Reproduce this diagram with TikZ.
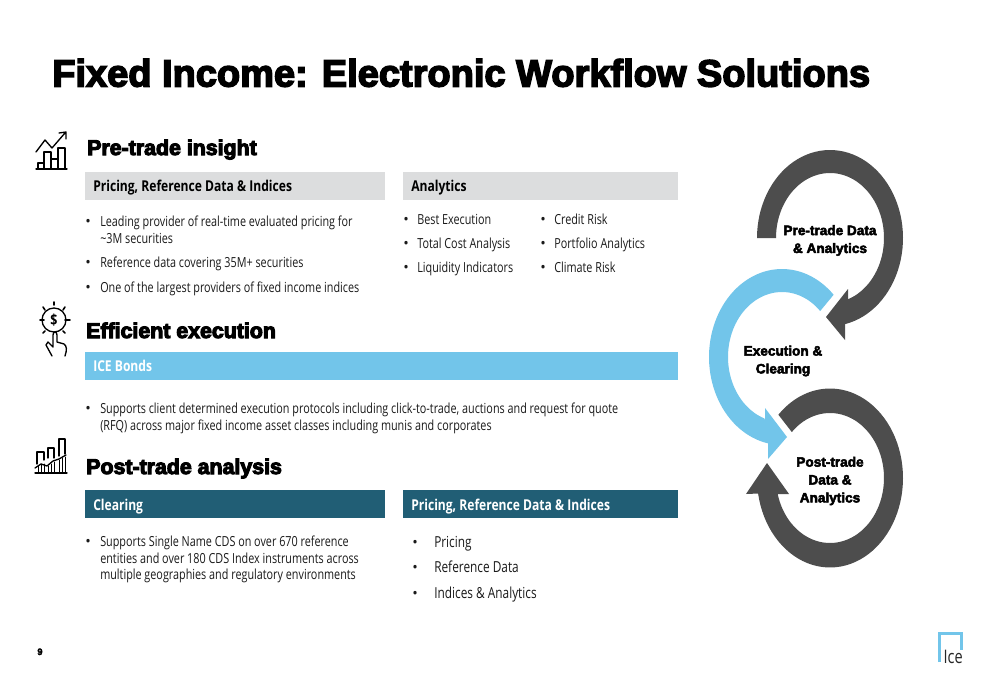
\documentclass[tikz,border=0pt]{standalone}
\usepackage{fontspec}
\setmainfont{Open Sans}
\newfontfamily\bodyfont[FakeStretch=0.78]{Open Sans}
\newfontfamily\semifont[FakeStretch=0.81,BoldFont={Open Sans Bold}]{Open Sans}
\newfontfamily\titlefont[FakeBold=4]{Liberation Sans Bold}
\newfontfamily\heavyfont[FakeBold=5]{Liberation Sans Bold}
\newfontfamily\ringfont[FakeBold=3.5]{Liberation Sans Bold}
\definecolor{headgray}{HTML}{DCDDDE}
\definecolor{skyblue}{HTML}{72C5EA}
\definecolor{tealbar}{HTML}{215E75}
\definecolor{ringdark}{HTML}{4D4D4D}
\definecolor{bodytext}{HTML}{1A1A1A}
\tikzset{
 x=0.75pt,y=-0.75pt,
 bar/.style={draw=none,inner sep=0pt,anchor=north west},
 headtext/.style={inner sep=0pt,anchor=base west,font=\semifont\bfseries\fontsize{11.2}{13}\selectfont},
 bodyline/.style={inner sep=0pt,anchor=base west,text=bodytext,align=left,font=\bodyfont\fontsize{10.4}{13}\selectfont},
 bigline/.style={bodyline,font=\bodyfont\fontsize{11.4}{13}\selectfont},
 bulletmark/.style={inner sep=0pt,anchor=base west,text=bodytext,font=\fontsize{11}{13}\selectfont},
 section/.style={inner sep=0pt,anchor=base west,font=\heavyfont\fontsize{16}{19}\selectfont},
 ringtext/.style={inner sep=0pt,align=center,font=\ringfont\fontsize{10.2}{13.4}\selectfont},
 icon/.style={draw=black,line width=1pt,fill=none,line cap=round,line join=round},
}
\begin{document}
\begin{tikzpicture}
\useasboundingbox (0,0) rectangle (1000,685);
\fill[white] (0,0) rectangle (1000,685);
% title
\node[inner sep=0pt,anchor=base west,font=\titlefont\fontsize{28.5}{34}\selectfont] (title) at (52,86.5) {Fixed Income: Electronic Workflow Solutions};
% header bars
\node[bar,fill=headgray,minimum width=225pt,minimum height=21pt] (barA) at (85,172) {};
\node[bar,fill=headgray,minimum width=206.25pt,minimum height=21pt] (barB) at (403,172) {};
\node[bar,fill=skyblue,minimum width=444.75pt,minimum height=21pt] (barC) at (85,352) {};
\node[bar,fill=tealbar,minimum width=225pt,minimum height=21pt] (barD) at (85,490) {};
\node[bar,fill=tealbar,minimum width=206.25pt,minimum height=21pt] (barE) at (403,490) {};
% section headings
\node[section] (secA) at (87,155) {Pre-trade insight};
\node[section] (secB) at (86,338) {Efficient execution};
\node[section] (secC) at (86,474) {Post-trade analysis};
% bar labels
\node[headtext] (tA) at (93,191) {Pricing, Reference Data \& Indices};
\node[headtext] (tB) at (411,191) {Analytics};
\node[headtext,text=white] (tC) at (93,371) {ICE Bonds};
\node[headtext,text=white] (tD) at (93,510) {Clearing};
\node[headtext,text=white] (tE) at (411,510) {Pricing, Reference Data \& Indices};
% bullets
\foreach \n/\bx/\by in {a/85/226,b/85/267,c/85/292,d/403/224,e/403/248,f/403/272,g/540/224,h/540/248,i/540/272,j/85/413,k/85/546,l/412/547,m/412/572,n/412/598}
  \node[bulletmark] (bul\n) at (\bx,\by) {•};
\node[bodyline] (la1) at (100,226) {Leading provider of real-time evaluated pricing for};
\node[bodyline] (la2) at (100,243) {\textasciitilde3M securities};
\node[bodyline] (lb) at (100,267) {Reference data covering 35M+ securities};
\node[bodyline] (lc) at (100,292) {One of the largest providers of fixed income indices};
\node[bodyline] (ld) at (417,224) {Best Execution};
\node[bodyline] (le) at (417,248) {Total Cost Analysis};
\node[bodyline] (lf) at (417,272) {Liquidity Indicators};
\node[bodyline] (lg) at (554,224) {Credit Risk};
\node[bodyline] (lh) at (554,248) {Portfolio Analytics};
\node[bodyline] (li) at (554,272) {Climate Risk};
\node[bodyline] (lj1) at (100,413) {Supports client determined execution protocols including click-to-trade, auctions and request for quote};
\node[bodyline] (lj2) at (100,430) {(RFQ) across major fixed income asset classes including munis and corporates};
\node[bodyline] (lk1) at (100,546) {Supports Single Name CDS on over 670 reference};
\node[bodyline] (lk2) at (100,563) {entities and over 180 CDS Index instruments across};
\node[bodyline] (lk3) at (100,579) {multiple geographies and regulatory environments};
\node[bigline] (ll) at (434,547) {Pricing};
\node[bigline] (lm) at (434,572) {Reference Data};
\node[bigline] (ln) at (434,598) {Indices \& Analytics};
% rings
\fill[ringdark] plot[domain=180:438,samples=70] ({830+73*cos(\x)},{238+88*sin(\x)}) -- (845,340) -- (826,317) -- (848,289) -- (848,301) -- plot[domain=430:180,samples=70] ({830+54*cos(\x)},{238+65*sin(\x)}) -- cycle;
\fill[skyblue] plot[domain=-45:-259,samples=70] ({782+73*cos(\x)},{357+88*sin(\x)}) -- (768,459) -- (787,437) -- (765,408) -- (765,420) -- plot[domain=-251:-45,samples=70] ({782+54*cos(\x)},{357+65*sin(\x)}) -- cycle;
\fill[ringdark] plot[domain=225:530,samples=80] ({830+73*cos(\x)},{478+89.5*sin(\x)}) -- (746,494) -- (767,463) -- (789,494) -- (777,494) -- plot[domain=526:225,samples=80] ({830+54*cos(\x)},{478+65*sin(\x)}) -- cycle;
\node[ringtext] (r1) at (830,240.5) {Pre-trade Data\\\& Analytics};
\node[ringtext] (r2) at (783,361) {Execution \&\\Clearing};
\node[ringtext] (r3) at (830,481) {Post-trade\\Data \&\\Analytics};
% icon 1
\draw[icon] (36,169) -- (67,169);
\draw[icon] (38,169) rectangle (44,163) (44,169) rectangle (51,152) (51,169) -- (51,159) -- (58,159) (58,169) rectangle (65,148);
\draw[icon] (36,152) -- (45,140) -- (52,148) -- (65,133) (59,133) -- (66,132) -- (66,139);
% icon 2
\draw[icon] (54,320) circle[radius=12];
\draw[icon,line width=1.2pt] (54,302) -- (54,305) (43,307) -- (45,310) (65,307) -- (63,310) (40,320) -- (44,320) (65,320) -- (70,320) (43,333) -- (45,331) (65,333) -- (63,331);
\node[inner sep=0pt,font=\semifont\bfseries\fontsize{11.5}{12}\selectfont] (dollar) at (54,320) {\$};
\draw[icon] (52,356) -- (46,345) -- (48,342) -- (53,347) -- (53,335) .. controls (53,331) and (57,331) .. (57,335) -- (57,342) -- (64,344) .. controls (67,346) and (67,350) .. (65,356);
% icon 3
\draw[icon] (35,473) -- (67,473);
\draw[icon] (37,464) -- (37,452) -- (44,452) -- (44,460) (48,458) -- (48,448) -- (54,448) -- (54,458) (59,456) -- (59,439) -- (65,439) -- (65,454);
\draw[icon,line width=0.6pt] (38,466) -- (38,472) (41,464) -- (41,472) (44,464) -- (44,472) (48,466) -- (48,472) (51,464) -- (51,472) (54,462) -- (54,472) (59,460) -- (59,472) (62,458) -- (62,472) (65,457) -- (65,472);
\draw[icon] (35,468) -- (41,464) -- (47,466) -- (53,461) -- (59,459) -- (66,455);
% page number and logo
\node[inner sep=0pt,anchor=base,font=\ringfont\fontsize{7}{8}\selectfont] (page) at (40,655) {9};
\draw[skyblue,line width=2pt] (939.5,662) -- (939.5,633.5) -- (961.5,633.5) -- (961.5,650);
\node[inner sep=0pt,anchor=base east,text=black!85,font=\bodyfont\fontsize{14}{14}\selectfont] (logo) at (963,663) {Ice};
\end{tikzpicture}
\end{document}
